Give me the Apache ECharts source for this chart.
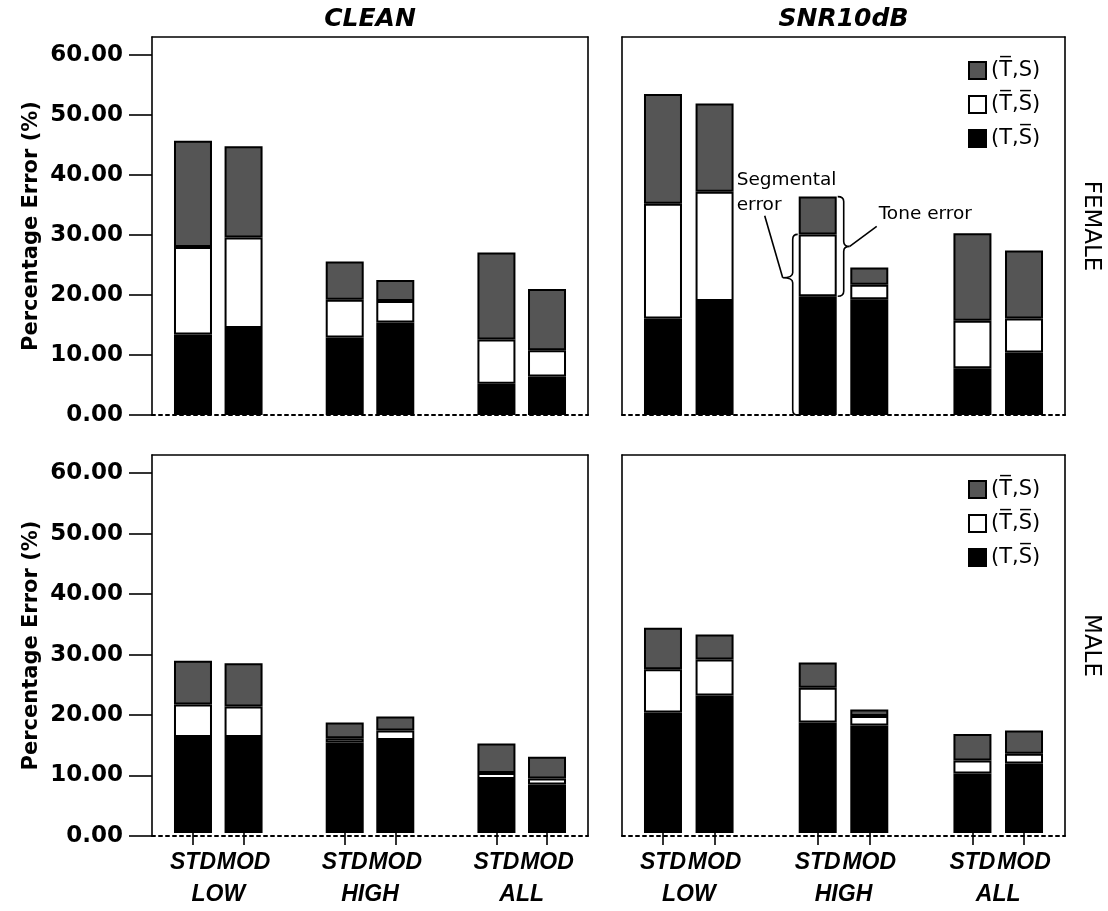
<!DOCTYPE html>
<html>
<head>
<meta charset="utf-8">
<script src="https://cdn.jsdelivr.net/npm/echarts@6/dist/echarts.min.js"></script>
<style>
  html, body { margin: 0; padding: 0; background: #fff; }
  #chart { width: 1108px; height: 911px; }
</style>
</head>
<body>
<div id="chart"></div>
<script>
// ---- labels ----
const conditions = ['CLEAN', 'SNR10dB'];
const speakers = ['FEMALE', 'MALE'];
const groups = ['LOW', 'HIGH', 'ALL'];
const methods = ['STD', 'MOD'];
const yTicks = [0, 10, 20, 30, 40, 50, 60];
const yAxisTitle = 'Percentage Error (%)';
// legend entries, top to bottom: (T̄,S), (T̄,S̄), (T,S̄)
const legendNames = ['(T\u0305,S)', '(T\u0305,S\u0305)', '(T,S\u0305)'];
const annotationTexts = ['Segmental\nerror', 'Tone error'];

// ---- segment heights (%), order: LOW STD, LOW MOD, HIGH STD, HIGH MOD, ALL STD, ALL MOD ----
// (T,S̄) bottom, (T̄,S̄) middle, (T̄,S) top
const cleanFemaleTS    = [13.4, 14.5, 12.9, 15.4, 5.2, 6.4];
const cleanFemaleTbSb  = [14.6, 15.1, 6.3, 3.6, 7.4, 4.4];
const cleanFemaleTbS   = [17.7, 15.2, 6.4, 3.5, 14.5, 10.2];

const snrFemaleTS      = [16.1, 19.0, 19.8, 19.3, 7.8, 10.4];
const snrFemaleTbSb    = [19.1, 18.2, 10.3, 2.4, 7.9, 5.7];
const snrFemaleTbS     = [18.3, 14.7, 6.3, 2.9, 14.6, 11.3];

const cleanMaleTS      = [16.0, 16.0, 15.1, 15.5, 9.0, 8.1];
const cleanMaleTbSb    = [5.4, 5.1, 0.7, 1.6, 1.0, 1.0];
const cleanMaleTbS     = [7.3, 7.2, 2.6, 2.3, 4.9, 3.6];

const snrMaleTS        = [20.1, 22.9, 18.4, 17.9, 9.9, 11.6];
const snrMaleTbSb      = [7.2, 6.0, 5.8, 1.6, 2.2, 1.6];
const snrMaleTbS       = [6.9, 4.2, 4.2, 1.1, 4.4, 3.9];

// ---- category slots: STD, MOD, (gap), STD, MOD, (gap), STD, MOD ----
const slotKeys = [];
const barSlots = [];
groups.forEach((g, gi) => {
  methods.forEach(m => { barSlots.push(slotKeys.length); slotKeys.push(g + ' ' + m); });
  if (gi < groups.length - 1) slotKeys.push('gap' + gi);
});

function toSlots(arr) {
  return slotKeys.map((k, i) => {
    const j = barSlots.indexOf(i);
    return j < 0 ? '-' : arr[j];
  });
}

// ---- panel geometry (px) ----
const panels = [
  { row: 0, col: 0, frame: [152, 37, 436, 378], inner: [167.7, 404.6], segs: [cleanFemaleTS, cleanFemaleTbSb, cleanFemaleTbS] },
  { row: 0, col: 1, frame: [622, 37, 443, 378], inner: [637.2, 412.6], segs: [snrFemaleTS, snrFemaleTbSb, snrFemaleTbS] },
  { row: 1, col: 0, frame: [152, 455, 436, 381], inner: [167.7, 404.6], segs: [cleanMaleTS, cleanMaleTbSb, cleanMaleTbS] },
  { row: 1, col: 1, frame: [622, 455, 443, 381], inner: [637.2, 412.6], segs: [snrMaleTS, snrMaleTbSb, snrMaleTbS] }
];
const Y_MAX = 63;

const segColors = ['#000000', '#ffffff', '#555555'];
const segNames = [legendNames[2], legendNames[1], legendNames[0]];

const titleFont = { fontFamily: 'DejaVu Sans', fontWeight: 'bold', fontStyle: 'italic', fontSize: 25, color: '#000' };
const blackLine = { color: '#000', width: 1.6 };

const grids = [], xAxes = [], yAxes = [], series = [];

panels.forEach((p, i) => {
  const isTop = p.row === 0;
  const isLeft = p.col === 0;
  const [fl, ft, fw, fh] = p.frame;
  const slotW = p.inner[1] / slotKeys.length;
  grids.push({ left: fl, top: ft, width: fw, height: fh });
  grids.push({ left: p.inner[0], top: ft, width: p.inner[1], height: fh });
  const gF = 2 * i, gD = 2 * i + 1;

  // frame: bottom (dotted baseline)
  xAxes.push({
    gridIndex: gF, type: 'value', min: 0, max: 1, position: 'bottom',
    axisLine: { onZero: false, lineStyle: { color: '#000', width: 2, type: [3, 4] } },
    axisTick: { show: false }, axisLabel: { show: false }, splitLine: { show: false }
  });
  // frame: top edge, carries the condition title on the upper row
  xAxes.push({
    gridIndex: gF, type: 'value', min: 0, max: 1, position: 'top',
    axisLine: { onZero: false, lineStyle: blackLine },
    axisTick: { show: false }, axisLabel: { show: false }, splitLine: { show: false },
    name: isTop ? conditions[p.col] : '', nameLocation: 'middle', nameGap: 5,
    nameTextStyle: titleFont
  });
  // bars: category axis
  xAxes.push({
    gridIndex: gD, type: 'category', data: slotKeys, position: 'bottom',
    show: !isTop,
    axisLine: { show: false, onZero: false },
    axisTick: {
      show: true, alignWithLabel: true, length: 12,
      interval: (idx) => barSlots.indexOf(idx) >= 0,
      lineStyle: { color: '#000', width: 1.6 }
    },
    axisLabel: {
      interval: 0, margin: 14,
      fontFamily: 'Liberation Sans', fontWeight: 'bold', fontStyle: 'italic', fontSize: 23,
      lineHeight: 32, color: '#000',
      formatter: (value, idx) => {
        const j = barSlots.indexOf(idx);
        if (j < 0) return '';
        const m = methods[j % 2];
        if (j % 2 === 0) return m + '\n{pad|}{grp|' + groups[Math.floor(j / 2)] + '}';
        return m;
      },
      rich: {
        pad: { width: slotW, lineHeight: 32 },
        grp: { fontFamily: 'Liberation Sans', fontWeight: 'bold', fontStyle: 'italic', fontSize: 23, lineHeight: 32, color: '#000' }
      }
    },
    splitLine: { show: false }
  });

  // frame: left edge with value ticks on the left column
  yAxes.push({
    gridIndex: gF, type: 'value', min: 0, max: Y_MAX, position: 'left',
    axisLine: { show: true, onZero: false, lineStyle: blackLine },
    axisTick: { show: isLeft, length: 23, customValues: yTicks, lineStyle: blackLine },
    axisLabel: {
      show: isLeft, customValues: yTicks, margin: 29,
      fontFamily: 'DejaVu Sans', fontWeight: 'bold', fontSize: 23, color: '#000',
      formatter: (v) => v.toFixed(2)
    },
    splitLine: { show: false },
    name: isLeft ? yAxisTitle : '', nameLocation: 'middle', nameGap: 110,
    nameTextStyle: { fontFamily: 'DejaVu Sans', fontWeight: 'bold', fontSize: 21, color: '#000' }
  });
  // frame: right edge, carries the speaker label on the right column
  yAxes.push({
    gridIndex: gF, type: 'value', min: 0, max: Y_MAX, position: 'right',
    axisLine: { show: true, onZero: false, lineStyle: blackLine },
    axisTick: { show: false }, axisLabel: { show: false }, splitLine: { show: false },
    name: isLeft ? '' : speakers[p.row], nameLocation: 'middle', nameGap: 14, nameRotate: -90,
    nameTextStyle: { fontFamily: 'DejaVu Sans', fontSize: 23, color: '#000' }
  });
  // bars: value axis (hidden, same scale as the frame)
  yAxes.push({
    gridIndex: gD, type: 'value', min: 0, max: Y_MAX, show: false,
    splitLine: { show: false }
  });

  p.segs.forEach((arr, s) => {
    series.push({
      type: 'bar', name: segNames[s], stack: 'panel' + i,
      xAxisIndex: 3 * i + 2, yAxisIndex: 3 * i + 2,
      barWidth: 38,
      itemStyle: { color: segColors[s], borderColor: '#000', borderWidth: 2 },
      emphasis: { disabled: true },
      data: toSlots(arr)
    });
  });
});

// ---- brace annotations on the SNR10dB / FEMALE / HIGH STD bar ----
(function () {
  const i = 1, j = 2;
  const p = panels[i];
  const b = p.segs[0][j], w = p.segs[1][j], g = p.segs[2][j];
  series.push({
    type: 'custom', xAxisIndex: 3 * i + 2, yAxisIndex: 3 * i + 2,
    silent: true, z: 10, clip: false,
    dimensions: ['slot', 'black', 'white', 'top'],
    encode: { x: 0, y: 3 },
    data: [[barSlots[j], b, b + w, b + w + g]],
    renderItem: (params, api) => {
      const slot = api.value(0);
      const base = api.coord([slot, 0]);
      const pBlack = api.coord([slot, api.value(1)]);
      const pWhite = api.coord([slot, api.value(2)]);
      const pTop = api.coord([slot, api.value(3)]);
      const half = 20;
      const c = 5;
      // segmental error: left brace from baseline to top of the white segment
      const xL = base[0] - half - 5;
      const y0 = base[1], y1 = pWhite[1];
      const tipLY = y1 + 0.24 * (y0 - y1), tipLX = xL - 10;
      const dL = ['M', xL + 5, y0, 'Q', xL, y0, xL, y0 - c,
        'L', xL, tipLY + c, 'Q', xL, tipLY, tipLX, tipLY,
        'Q', xL, tipLY, xL, tipLY - c,
        'L', xL, y1 + c, 'Q', xL, y1, xL + 5, y1].join(' ');
      // tone error: right brace from bar top to top of the black segment
      const xR = base[0] + half + 6;
      const r0 = pTop[1], r1 = pBlack[1];
      const tipRY = (r0 + r1) / 2, tipRX = xR + 6;
      const dR = ['M', xR - 6, r0, 'Q', xR, r0, xR, r0 + c,
        'L', xR, tipRY - c, 'Q', xR, tipRY, tipRX, tipRY,
        'Q', xR, tipRY, xR, tipRY + c,
        'L', xR, r1 - c, 'Q', xR, r1, xR - 6, r1].join(' ');
      const stroke = { stroke: '#000', lineWidth: 1.6, fill: null };
      const txt = { fontFamily: 'DejaVu Sans', fontSize: 18.5, fill: '#000', align: 'left', verticalAlign: 'top' };
      return {
        type: 'group',
        children: [
          { type: 'path', shape: { pathData: dL }, style: stroke },
          { type: 'path', shape: { pathData: dR }, style: stroke },
          { type: 'line', shape: { x1: tipLX, y1: tipLY, x2: tipLX - 18, y2: tipLY - 62 }, style: stroke },
          { type: 'line', shape: { x1: tipRX, y1: tipRY, x2: tipRX + 27, y2: tipRY - 20 }, style: stroke },
          { type: 'text', style: Object.assign({ text: annotationTexts[0], x: base[0] - 81, y: pTop[1] - 29, lineHeight: 25 }, txt) },
          { type: 'text', style: Object.assign({ text: annotationTexts[1], x: tipRX + 29, y: tipRY - 42 }, txt) }
        ]
      };
    }
  });
})();

const legendBase = {
  data: legendNames, orient: 'vertical', icon: 'rect',
  itemWidth: 17, itemHeight: 17, itemGap: 13, itemTextGap: 6,
  selectedMode: false,
  textStyle: { fontFamily: 'DejaVu Sans', fontSize: 21, color: '#000', lineHeight: 21 }
};

const chart = echarts.init(document.getElementById('chart'), null, { renderer: 'canvas' });
chart.setOption({
  animation: false,
  backgroundColor: '#fff',
  legend: [
    Object.assign({ left: 963, top: 55 }, legendBase),
    Object.assign({ left: 963, top: 474 }, legendBase)
  ],
  grid: grids,
  xAxis: xAxes,
  yAxis: yAxes,
  series: series
});
</script>
</body>
</html>
